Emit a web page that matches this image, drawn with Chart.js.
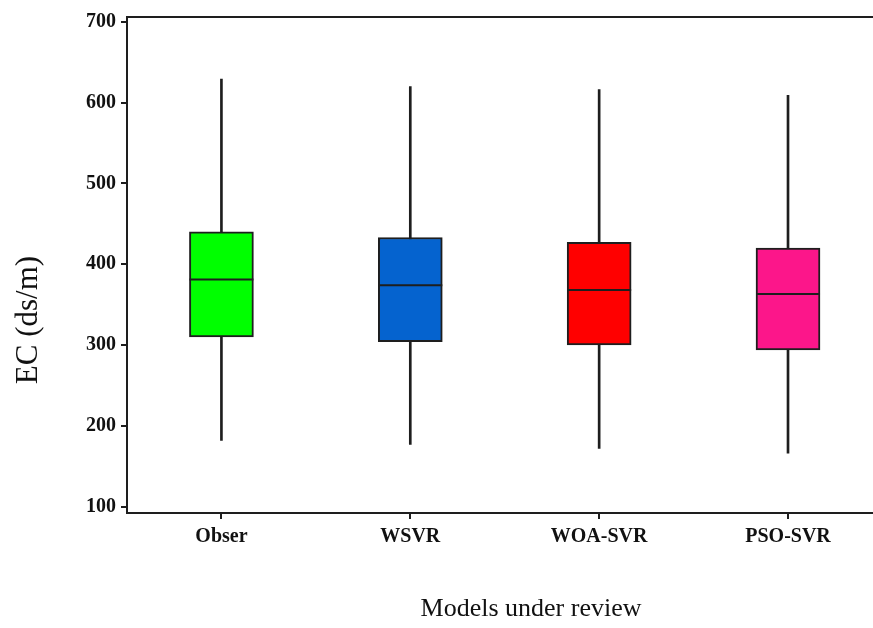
<!DOCTYPE html>
<html>
<head>
<meta charset="utf-8">
<script src="https://cdn.jsdelivr.net/npm/chart.js@4.4.0/dist/chart.umd.min.js"></script>
<style>
  html, body { margin: 0; padding: 0; background: #fff; }
</style>
</head>
<body>
<canvas id="chartCanvas" width="873" height="628"></canvas>
<script>
const models = ["Obser", "WSVR", "WOA-SVR", "PSO-SVR"];
const minVals = [182, 177, 172, 166];
const q1Vals = [310, 304, 300, 294];
const medianVals = [381, 374, 368, 363];
const q3Vals = [440, 433, 427, 420];
const maxVals = [629, 620, 616, 609];
const boxColors = ["#00ff00", "#0563cf", "#ff0000", "#fc168a"];
const yTicks = [100, 200, 300, 400, 500, 600, 700];
const xTitle = "Models under review";
const yTitle = "EC (ds/m)";

const lineColor = "#1e1e1e";

// median line across each box
const medianPlugin = {
  id: "medianLines",
  afterDatasetsDraw(chart) {
    const meta = chart.getDatasetMeta(1);
    const yScale = chart.scales.y;
    const ctx = chart.ctx;
    ctx.save();
    ctx.strokeStyle = lineColor;
    ctx.lineWidth = 2;
    meta.data.forEach((bar, i) => {
      const y = yScale.getPixelForValue(medianVals[i]);
      ctx.beginPath();
      ctx.moveTo(bar.x - bar.width / 2, y);
      ctx.lineTo(bar.x + bar.width / 2, y);
      ctx.stroke();
    });
    ctx.restore();
  }
};

// axis titles sit off-centre in the original, so place them by hand
const axisTitlePlugin = {
  id: "axisTitles",
  afterDraw(chart) {
    const ctx = chart.ctx;
    const area = chart.chartArea;
    ctx.save();
    ctx.fillStyle = "#111";
    ctx.textAlign = "center";
    ctx.textBaseline = "middle";
    ctx.font = "26px 'Liberation Serif'";
    ctx.fillText(xTitle, area.left + 404, area.bottom + 96);
    ctx.translate(29, area.top + 303);
    ctx.rotate(-Math.PI / 2);
    ctx.font = "31px 'Liberation Serif'";
    ctx.fillText(yTitle, 0, 0);
    ctx.restore();
  }
};

const ctx = document.getElementById("chartCanvas").getContext("2d");
new Chart(ctx, {
  type: "bar",
  data: {
    datasets: [
      {
        label: "whisker",
        data: models.map((_, i) => ({ x: i + 1, y: [minVals[i], maxVals[i]] })),
        backgroundColor: lineColor,
        barThickness: 2,
        grouped: false,
        order: 2
      },
      {
        label: "box",
        data: models.map((_, i) => ({ x: i + 1, y: [q1Vals[i], q3Vals[i]] })),
        backgroundColor: boxColors,
        borderColor: lineColor,
        borderWidth: 2,
        borderSkipped: false,
        barThickness: 64,
        grouped: false,
        order: 1
      }
    ]
  },
  options: {
    responsive: false,
    animation: false,
    layout: { padding: { left: 0, right: 0, top: 13, bottom: 0 } },
    plugins: {
      legend: { display: false },
      tooltip: { enabled: false }
    },
    scales: {
      x: {
        type: "linear",
        position: "bottom",
        // the plot runs a little past the right edge in the original
        min: 0.5,
        max: 4.45,
        offset: false,
        afterFit: (scale) => { scale.height = 115; },
        afterBuildTicks: (scale) => {
          scale.ticks = models.map((_, i) => ({ value: i + 1 }));
        },
        grid: {
          display: true,
          offset: false,
          drawOnChartArea: false,
          drawTicks: true,
          tickLength: 6,
          color: lineColor,
          lineWidth: 2
        },
        border: { display: true, color: lineColor, width: 2 },
        ticks: {
          color: "#111",
          padding: 6,
          maxRotation: 0,
          autoSkip: false,
          callback: (v) => models[v - 1],
          font: { family: "Liberation Serif", size: 20, weight: "bold" }
        }
      },
      xTop: {
        position: "top",
        afterFit: (scale) => { scale.height = 0; },
        grid: { display: false },
        border: { display: true, color: lineColor, width: 2 },
        ticks: { display: false }
      },
      y: {
        min: 92,
        max: 706,
        afterFit: (scale) => { scale.width = 127; },
        afterBuildTicks: (scale) => {
          scale.ticks = yTicks.map(v => ({ value: v }));
        },
        grid: {
          display: true,
          drawOnChartArea: false,
          drawTicks: true,
          tickLength: 6,
          color: lineColor,
          lineWidth: 2
        },
        border: { display: true, color: lineColor, width: 2 },
        ticks: {
          color: "#111",
          padding: 5,
          font: { family: "Liberation Serif", size: 20, weight: "bold" }
        }
      }
    }
  },
  plugins: [medianPlugin, axisTitlePlugin]
});
</script>
</body>
</html>
